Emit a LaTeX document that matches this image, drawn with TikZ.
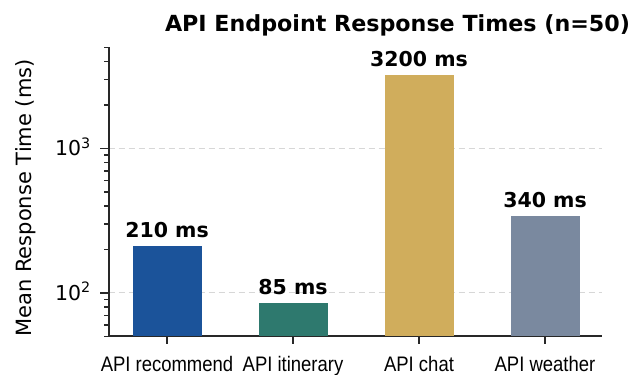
\documentclass[tikz,border=0pt]{standalone}
\usepackage{fontspec}
\setmainfont{DejaVu Sans}
\newfontfamily\tickfont{Liberation Sans}
\usetikzlibrary{positioning}
\usetikzlibrary{calc}
\definecolor{barblue}{RGB}{27,83,154}
\definecolor{barteal}{RGB}{46,121,110}
\definecolor{bargold}{RGB}{208,173,92}
\definecolor{barslate}{RGB}{122,137,159}
\definecolor{spinegray}{RGB}{40,40,40}
\definecolor{gridgray}{RGB}{215,215,215}
\tikzstyle{bar}=[draw=none,minimum width=69pt,inner sep=0pt,anchor=south]
\tikzstyle{barlabel}=[font=\fontsize{20.5}{20.5}\selectfont\bfseries,inner sep=0pt]
\tikzstyle{xticklabel}=[font=\tickfont\fontsize{21}{21}\selectfont,inner sep=0pt,anchor=base]
\tikzstyle{yticklabel}=[font=\fontsize{20.5}{20.5}\selectfont,inner sep=0pt,anchor=base east]
\tikzstyle{spine}=[draw,line width=2pt,spinegray]
\tikzstyle{gridline}=[draw,gridgray,line width=1pt,dash pattern=on 6pt off 4pt]
\tikzstyle{majortick}=[draw,line width=1.6pt,spinegray]
\tikzstyle{minortick}=[draw,line width=1.3pt,spinegray]

\begin{document}
\begin{tikzpicture}[x=1pt,y=1pt]
    \useasboundingbox (0,0) rectangle (633,375);

    \coordinate (origin) at (108.5,38.5);
    \coordinate (ytop) at (108.5,327.5);
    \coordinate (xend) at (602,38.5);

    \foreach \e/\name in {2/lo,3/hi} {
        \coordinate (grid\name) at (108.5,{82+(\e-2)*144.5});
        \coordinate (grid\name end) at (602,{82+(\e-2)*144.5});
        \path[gridline] (grid\name) -- (grid\name end);
        \path[majortick] (grid\name) -- ++(-9,0);
        \node[yticklabel] (ten\e) at ($(grid\name)+(-17.5,-7.5)$) {10\textsuperscript{\e}};
    }

    \foreach \v in {50,60,70,80,90,200,300,400,500,600,700,800,900,2000,3000,4000,5000}
        \path[minortick] (108.5,{82+(log10(\v)-2)*144.5}) -- ++(-5,0);

    \path[spine] (ytop) -- (origin) -- (xend);

    \foreach \x/\name/\val/\col/\text in {167/rec/210/barblue/API recommend, 293/iti/85/barteal/API itinerary, 419/chat/3200/bargold/API chat, 545/wea/340/barslate/API weather} {
        \pgfmathsetmacro{\h}{82+(log10(\val)-2)*144.5-38.5}
        \node[bar,fill=\col,minimum height=\h pt] (\name) at (\x,38.5) {};
        \node[barlabel,above=8.5pt of \name.north,anchor=base] (\name val) {\val\ ms};
        \path[majortick] (\name.south) -- ++(0,-8);
        \node[xticklabel] (\name lab) at (\x,3) {\scalebox{0.88}[1]{\text}};
    }

    \node[font=\fontsize{22.2}{22.2}\selectfont\bfseries,inner sep=0pt,anchor=base] (title) at (397.5,343.5) {API Endpoint Response Times (n=50)};
    \node[font=\fontsize{21}{21}\selectfont,inner sep=0pt,rotate=90,anchor=base] (yaxislabel) at (31,177) {Mean Response Time (ms)};

\end{tikzpicture}
\end{document}
